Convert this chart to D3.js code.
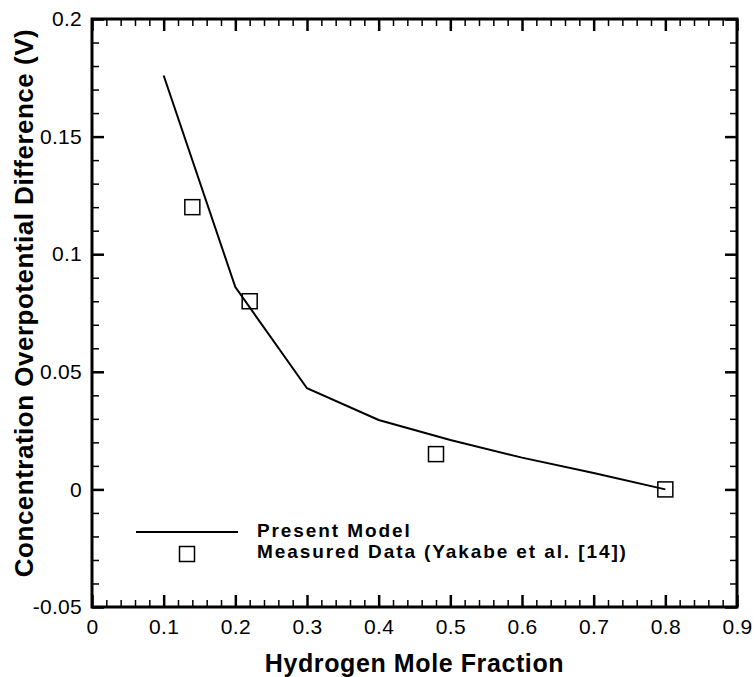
<!DOCTYPE html>
<html>
<head>
<meta charset="utf-8">
<script src="https://d3js.org/d3.v7.min.js"></script>
<style>
  body { margin: 0; background: #fff; }
  text { font-family: 'Liberation Sans', Arial, sans-serif; fill: #000; }
  .tick-lbl { font-size: 21px; letter-spacing: 0.3px; }
  .title { font-size: 25px; font-weight: bold; letter-spacing: 0.6px; }
  .ytitle { font-size: 26px; letter-spacing: 0.5px; }
  .legend { font-size: 19px; font-weight: bold; letter-spacing: 1.9px; }
</style>
</head>
<body>
<div id="chart"></div>
<script>
// model curve
const modelX = [0.1, 0.2, 0.3, 0.4, 0.5, 0.6, 0.7, 0.8];
const modelY = [0.176, 0.086, 0.043, 0.0295, 0.021, 0.0135, 0.007, 0.0];

// measured points (Yakabe et al.)
const measX = [0.14, 0.22, 0.48, 0.8];
const measY = [0.12, 0.08, 0.015, 0.0];

const xTicks = [0, 0.1, 0.2, 0.3, 0.4, 0.5, 0.6, 0.7, 0.8, 0.9];
const yTicks = [-0.05, 0, 0.05, 0.1, 0.15, 0.2];
const xLabel = 'Hydrogen Mole Fraction';
const yLabel = 'Concentration Overpotential Difference (V)';
const legendLabels = ['Present Model', 'Measured Data (Yakabe et al. [14])'];

const W = 755, H = 677;
const margin = { left: 92, top: 19, right: 18, bottom: 70 };
const width = W - margin.left - margin.right;
const height = H - margin.top - margin.bottom;

const x = d3.scaleLinear().domain([0, 0.9]).range([0, width]);
const y = d3.scaleLinear().domain([-0.05, 0.2]).range([height, 0]);

const fmt = d => String(+d.toFixed(2));
const xMinor = d3.range(0, 0.9001, 0.02).filter(v => Math.abs(v * 10 - Math.round(v * 10)) > 1e-6);
const yMinor = d3.range(-0.05, 0.2001, 0.01).filter(v => Math.abs(v * 20 - Math.round(v * 20)) > 1e-6);

const svg = d3.select('#chart').append('svg')
  .attr('width', W)
  .attr('height', H);

const g = svg.append('g')
  .attr('transform', `translate(${margin.left},${margin.top})`);

// ticks on all four sides, pointing inward
const addAxis = (axis, transform, values, size, sw, labels) => {
  const a = g.append('g')
    .attr('transform', transform)
    .call(axis.tickValues(values).tickSize(-size).tickSizeOuter(0)
      .tickPadding(labels ? size + 9 : 0)
      .tickFormat(labels ? fmt : ''));
  a.select('.domain').remove();
  a.selectAll('line').attr('stroke', '#000').attr('stroke-width', sw);
  a.selectAll('text').attr('class', 'tick-lbl').attr('fill', '#000');
  a.attr('font-size', null).attr('font-family', null);
  return a;
};

const bx = addAxis(d3.axisBottom(x), `translate(0,${height})`, xTicks, 12, 2.5, true);
bx.selectAll('text').attr('y', 12);
addAxis(d3.axisBottom(x), `translate(0,${height})`, xMinor, 7, 1.5, false);
addAxis(d3.axisTop(x), 'translate(0,0)', xTicks, 12, 2.5, false);
addAxis(d3.axisTop(x), 'translate(0,0)', xMinor, 7, 1.5, false);

const ly = addAxis(d3.axisLeft(y), 'translate(0,0)', yTicks, 12, 2.5, true);
ly.selectAll('text').attr('x', -10);
addAxis(d3.axisLeft(y), 'translate(0,0)', yMinor, 7, 1.5, false);
addAxis(d3.axisRight(y), `translate(${width},0)`, yTicks, 12, 2.5, false);
addAxis(d3.axisRight(y), `translate(${width},0)`, yMinor, 7, 1.5, false);

// frame
g.append('rect')
  .attr('width', width)
  .attr('height', height)
  .attr('fill', 'none')
  .attr('stroke', '#000')
  .attr('stroke-width', 3);

// model line
const line = d3.line()
  .x(d => x(d[0]))
  .y(d => y(d[1]));

g.append('path')
  .datum(d3.zip(modelX, modelY))
  .attr('d', line)
  .attr('fill', 'none')
  .attr('stroke', '#000')
  .attr('stroke-width', 2);

// measured squares
const sq = 15;
g.selectAll('.meas')
  .data(d3.zip(measX, measY))
  .enter().append('rect')
  .attr('class', 'meas')
  .attr('x', d => x(d[0]) - sq / 2)
  .attr('y', d => y(d[1]) - sq / 2)
  .attr('width', sq)
  .attr('height', sq)
  .attr('fill', 'none')
  .attr('stroke', '#000')
  .attr('stroke-width', 1.5);

// legend
const leg = svg.append('g').attr('transform', 'translate(136,532)');
leg.append('line')
  .attr('x1', 0).attr('x2', 102)
  .attr('y1', 0).attr('y2', 0)
  .attr('stroke', '#000')
  .attr('stroke-width', 2);
leg.append('rect')
  .attr('x', 51 - sq / 2).attr('y', 22 - sq / 2)
  .attr('width', sq).attr('height', sq)
  .attr('fill', 'none')
  .attr('stroke', '#000')
  .attr('stroke-width', 1.5);
leg.selectAll('.legend')
  .data(legendLabels)
  .enter().append('text')
  .attr('class', 'legend')
  .attr('x', 121)
  .attr('y', (d, i) => 5 + i * 21)
  .text(d => d);

// axis titles
svg.append('text')
  .attr('class', 'title')
  .attr('x', margin.left + width / 2)
  .attr('y', 672)
  .attr('text-anchor', 'middle')
  .text(xLabel);

svg.append('text')
  .attr('class', 'title ytitle')
  .attr('transform', `translate(33,${margin.top + height / 2 - 10}) rotate(-90)`)
  .attr('text-anchor', 'middle')
  .text(yLabel);
</script>
</body>
</html>
